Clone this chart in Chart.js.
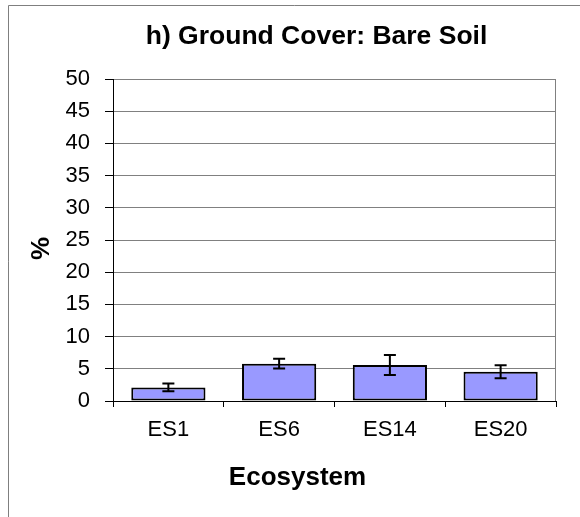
<!DOCTYPE html>
<html>
<head>
<meta charset="utf-8">
<script src="https://cdn.jsdelivr.net/npm/chart.js@4"></script>
<style>
  html, body { margin: 0; padding: 0; background: #fff; }
  #wrap { position: relative; width: 580px; height: 517px; }
</style>
</head>
<body>
<div id="wrap"><canvas id="coverChart" width="580" height="517"></canvas></div>
<script>
// Chart data
const chartTitle = 'h) Ground Cover: Bare Soil';
const xTitle = 'Ecosystem';
const yTitle = '%';
const ecosystems = ['ES1', 'ES6', 'ES14', 'ES20'];
const bareSoil = [2.1, 5.8, 5.6, 4.55];
const bareSoilErr = [0.6, 0.75, 1.55, 1.0];
const yTicks = [0, 5, 10, 15, 20, 25, 30, 35, 40, 45, 50];

const FONT = '"Liberation Sans", Arial, sans-serif';

// Frame, plot border and the titles (placed like the Excel original)
const framePlugin = {
    id: 'frame',
    beforeDraw(chart) {
        const ctx = chart.ctx;
        ctx.save();
        ctx.fillStyle = '#fff';
        ctx.fillRect(0, 0, chart.width, chart.height);
        ctx.strokeStyle = '#7f7f7f';
        ctx.lineWidth = 1;
        ctx.beginPath();
        ctx.moveTo(8.5, chart.height);
        ctx.lineTo(8.5, 5.5);
        ctx.lineTo(chart.width, 5.5);
        ctx.stroke();
        ctx.restore();
    },
    afterDraw(chart) {
        const ctx = chart.ctx;
        const area = chart.chartArea;
        ctx.save();
        ctx.strokeStyle = '#808080';
        ctx.lineWidth = 1;
        ctx.beginPath();
        ctx.moveTo(Math.round(area.right) - 0.5, area.top);
        ctx.lineTo(Math.round(area.right) - 0.5, area.bottom);
        ctx.stroke();

        ctx.fillStyle = '#000';
        ctx.textAlign = 'center';
        ctx.textBaseline = 'alphabetic';
        ctx.font = 'bold 26.5px ' + FONT;
        ctx.fillText(chartTitle, 316.5, 44);

        ctx.font = 'bold 26px ' + FONT;
        ctx.fillText(xTitle, 297.5, 485);

        ctx.translate(42, 248.5);
        ctx.rotate(-Math.PI / 2);
        ctx.textBaseline = 'middle';
        ctx.fillText(yTitle, 0, 0);
        ctx.restore();
    }
};

// Error bars drawn through the y scale
const errorBarPlugin = {
    id: 'errorBars',
    afterDatasetsDraw(chart) {
        const ctx = chart.ctx;
        const yScale = chart.scales.y;
        const meta = chart.getDatasetMeta(0);
        ctx.save();
        ctx.strokeStyle = '#000';
        ctx.lineWidth = 2;
        meta.data.forEach((bar, i) => {
            const hi = yScale.getPixelForValue(bareSoil[i] + bareSoilErr[i]);
            const lo = yScale.getPixelForValue(bareSoil[i] - bareSoilErr[i]);
            const x = bar.x;
            ctx.beginPath();
            ctx.moveTo(x, hi);
            ctx.lineTo(x, lo);
            ctx.moveTo(x - 6, hi);
            ctx.lineTo(x + 6, hi);
            ctx.moveTo(x - 6, lo);
            ctx.lineTo(x + 6, lo);
            ctx.stroke();
        });
        ctx.restore();
    }
};

const ctx = document.getElementById('coverChart').getContext('2d');
const coverChart = new Chart(ctx, {
    type: 'bar',
    data: {
        labels: ecosystems,
        datasets: [{
            label: 'Bare Soil',
            data: bareSoil,
            backgroundColor: '#9999ff',
            borderColor: '#000',
            borderWidth: 2,
            borderSkipped: false,
            barPercentage: 0.67,
            categoryPercentage: 1.0
        }]
    },
    options: {
        responsive: false,
        animation: false,
        layout: {
            padding: { left: 0, right: 24, top: 79, bottom: 0 }
        },
        plugins: {
            legend: { display: false },
            title: { display: false },
            tooltip: { enabled: false }
        },
        scales: {
            x: {
                grid: {
                    display: true,
                    drawOnChartArea: false,
                    drawTicks: true,
                    tickLength: 6,
                    color: '#000',
                    offset: true
                },
                border: { color: '#000', width: 1 },
                ticks: {
                    color: '#000',
                    padding: 10,
                    font: { family: FONT, size: 22 }
                },
                afterFit(scale) { scale.height = 116; }
            },
            y: {
                min: 0,
                max: 50,
                grid: {
                    color: '#808080',
                    tickColor: '#000',
                    tickLength: 8
                },
                border: { color: '#000', width: 1 },
                afterBuildTicks(scale) {
                    scale.ticks = yTicks.map(v => ({ value: v }));
                },
                ticks: {
                    color: '#000',
                    padding: 15,
                    font: { family: FONT, size: 22 }
                },
                afterFit(scale) { scale.width = 113; }
            }
        }
    },
    plugins: [framePlugin, errorBarPlugin]
});
</script>
</body>
</html>
